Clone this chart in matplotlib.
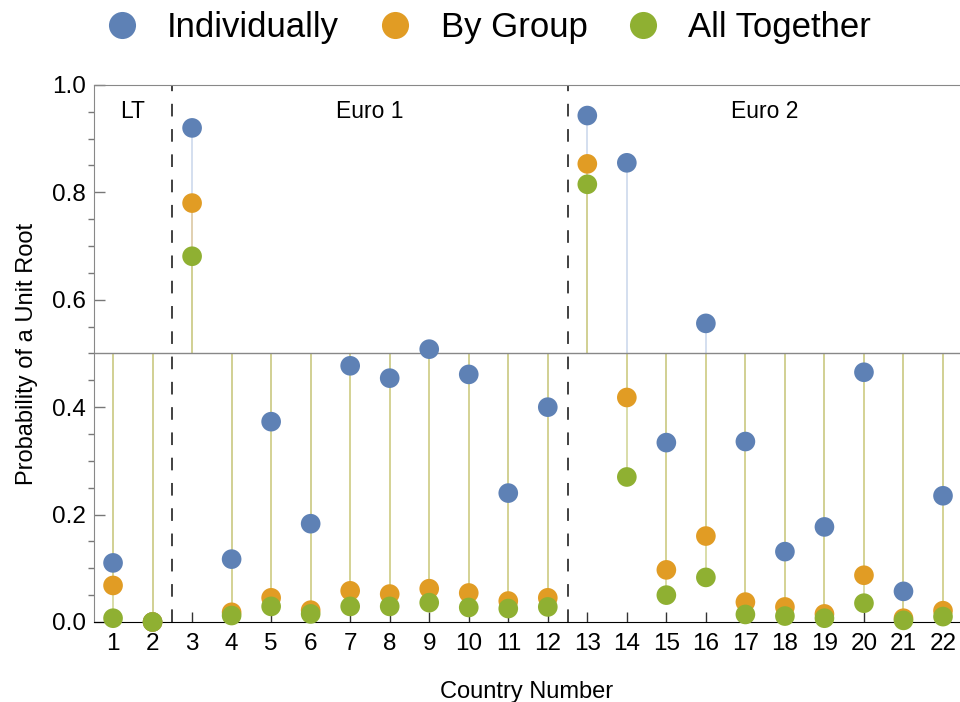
import numpy as np
import matplotlib
matplotlib.use("Agg")
import matplotlib.pyplot as plt
from matplotlib.lines import Line2D

plt.rcParams['font.family'] = ['Liberation Sans', 'DejaVu Sans']

countries = list(range(1, 23))
individually = [0.110, 0.000, 0.920, 0.117, 0.373, 0.183, 0.477, 0.454, 0.508, 0.461, 0.240,
                0.400, 0.943, 0.855, 0.334, 0.556, 0.336, 0.131, 0.177, 0.465, 0.057, 0.235]
by_group = [0.068, 0.000, 0.780, 0.018, 0.045, 0.022, 0.058, 0.052, 0.062, 0.054, 0.039,
            0.045, 0.853, 0.418, 0.097, 0.160, 0.037, 0.028, 0.015, 0.087, 0.007, 0.021]
all_together = [0.007, 0.000, 0.681, 0.012, 0.029, 0.015, 0.029, 0.029, 0.036, 0.027, 0.025,
                0.028, 0.815, 0.270, 0.050, 0.083, 0.014, 0.011, 0.007, 0.035, 0.003, 0.010]
series_names = ["Individually", "By Group", "All Together"]
colors = ["#5E81B5", "#E19C24", "#8FB032"]
stem_colors = ["#c5d3ea", "#e6cc9c", "#cdd18a"]
group_labels = ["LT", "Euro 1", "Euro 2"]
group_pos = [1.5, 7.5, 17.5]
dividers = [2.5, 12.5]
baseline = 0.5

fig = plt.figure(figsize=(9.6, 7.02), dpi=100)
ax = fig.add_axes([0.098, 0.114, 0.902, 0.765])

series = [individually, by_group, all_together]
# stems from the 0.5 axis
for vals, sc in zip(series, stem_colors):
    ax.vlines(countries, baseline, vals, colors=sc, lw=1.3, alpha=0.8, zorder=1)
ax.axhline(baseline, color="#888888", lw=1.0, zorder=2)

for vals, c in zip(series, colors):
    ax.scatter(countries, vals, s=200, color=c, edgecolors='none', zorder=3, clip_on=False)

for d in dividers:
    ax.plot([d, d], [0, 1], color="#333333", lw=1.3, dashes=(7, 7), zorder=2)

for lab, xp in zip(group_labels, group_pos):
    ax.text(xp, 0.95, lab, ha='center', va='center', fontsize=16.5)

ax.set_xlim(0.52, 22.43)
ax.set_ylim(0, 1)
ax.set_xticks(countries)
ax.set_yticks([0.0, 0.2, 0.4, 0.6, 0.8, 1.0])
ax.set_yticklabels(["0.0", "0.2", "0.4", "0.6", "0.8", "1.0"])
ax.set_yticks(np.arange(0, 1.001, 0.05), minor=True)
ax.tick_params(axis='both', direction='in', labelsize=17.5)
ax.tick_params(axis='x', length=7, width=1, color="#333333", pad=8)
ax.tick_params(axis='y', which='major', length=8, width=1, color="#777777", pad=6)
ax.tick_params(axis='y', which='minor', length=4, width=1, color="#777777")
ax.spines['right'].set_visible(False)
ax.spines['top'].set_color("#888888")
ax.spines['left'].set_color("#888888")
ax.spines['bottom'].set_color("#000000")

ax.set_xlabel("Country Number", fontsize=17, labelpad=19)
ax.set_ylabel("Probability of a Unit Root", fontsize=17, labelpad=10)

# legend placed by hand in figure pixels
leg_marker_x = [122, 395, 643]
leg_text_x = [167, 441, 688]
leg_y = 1 - 25 / 702
for c, name, mx, tx in zip(colors, series_names, leg_marker_x, leg_text_x):
    fig.add_artist(Line2D([mx / 960], [leg_y], ls='none', marker='o', markersize=19.5,
                          color=c, markeredgewidth=0, transform=fig.transFigure))
    fig.text(tx / 960, leg_y - 0.003, name, ha='left', va='center', fontsize=25)

fig.savefig("out.png", dpi=100)
